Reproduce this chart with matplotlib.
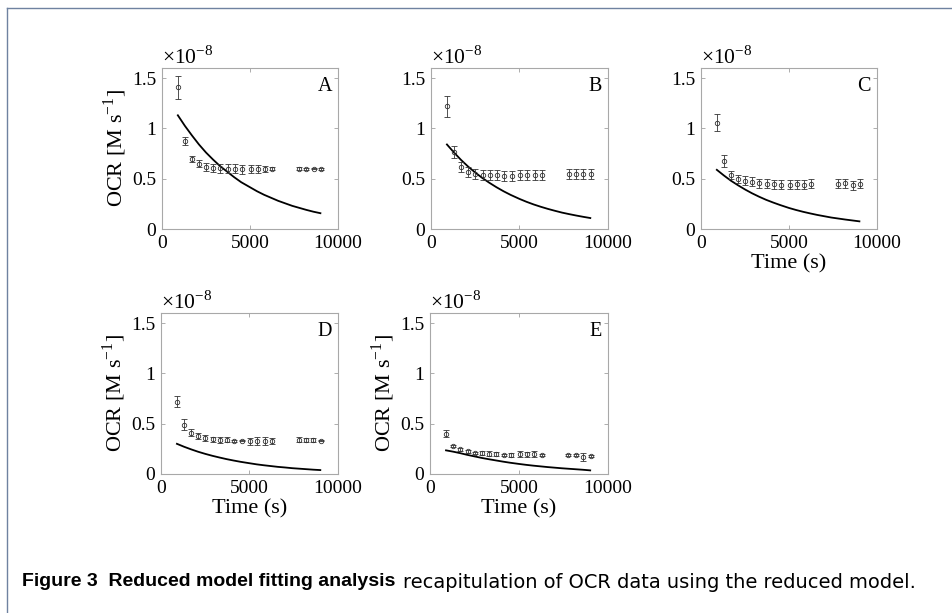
import numpy as np
import matplotlib
matplotlib.use("Agg")
import matplotlib.pyplot as plt
from matplotlib.lines import Line2D

# measured times (s) and OCR values in units of 1e-8 M/s
t = [900, 1300, 1710, 2110, 2510, 2910, 3320, 3730, 4140, 4550,
     5030, 5440, 5850, 6270, 7770, 8190, 8610, 9020]
line_t = [900, 1300, 1700, 2100, 2500, 2900, 3300, 3700, 4100, 4500, 5000,
          5400, 5800, 6200, 6600, 7000, 7400, 7800, 8200, 8600, 9000]

ocr_A = [1.41, 0.87, 0.70, 0.65, 0.62, 0.61, 0.605, 0.60, 0.60, 0.595,
         0.60, 0.60, 0.60, 0.60, 0.60, 0.60, 0.60, 0.595]
err_A = [0.115, 0.04, 0.03, 0.035, 0.04, 0.04, 0.045, 0.045, 0.045, 0.045,
         0.04, 0.04, 0.03, 0.015, 0.012, 0.01, 0.008, 0.008]
model_A = [1.13, 1.025, 0.93, 0.84, 0.76, 0.69, 0.625, 0.57, 0.515, 0.465, 0.415,
           0.375, 0.34, 0.31, 0.28, 0.255, 0.23, 0.21, 0.19, 0.172, 0.157]

ocr_B = [1.22, 0.765, 0.616, 0.568, 0.551, 0.54, 0.537, 0.534, 0.53, 0.53,
         0.537, 0.54, 0.537, 0.54, 0.548, 0.551, 0.548, 0.548]
err_B = [0.105, 0.06, 0.045, 0.05, 0.05, 0.05, 0.05, 0.05, 0.05, 0.05,
         0.05, 0.05, 0.05, 0.05, 0.05, 0.05, 0.05, 0.05]
model_B = [0.84, 0.76, 0.686, 0.62, 0.561, 0.507, 0.459, 0.415, 0.375, 0.339, 0.299,
           0.27, 0.244, 0.221, 0.20, 0.181, 0.163, 0.148, 0.134, 0.121, 0.109]

ocr_C = [1.058, 0.677, 0.541, 0.493, 0.48, 0.469, 0.456, 0.449, 0.446, 0.44,
         0.442, 0.446, 0.442, 0.449, 0.449, 0.456, 0.435, 0.449]
err_C = [0.085, 0.06, 0.04, 0.04, 0.045, 0.045, 0.045, 0.045, 0.045, 0.045,
         0.045, 0.045, 0.045, 0.045, 0.045, 0.045, 0.045, 0.045]
model_C = [0.588, 0.532, 0.48, 0.435, 0.393, 0.355, 0.321, 0.29, 0.263, 0.238, 0.209,
           0.189, 0.171, 0.155, 0.14, 0.127, 0.114, 0.104, 0.094, 0.085, 0.076]

ocr_D = [0.718, 0.488, 0.409, 0.379, 0.355, 0.346, 0.339, 0.339, 0.332, 0.332,
         0.326, 0.326, 0.332, 0.329, 0.339, 0.336, 0.336, 0.332]
err_D = [0.055, 0.055, 0.035, 0.03, 0.03, 0.025, 0.03, 0.025, 0.01, 0.008,
         0.035, 0.04, 0.04, 0.03, 0.025, 0.02, 0.02, 0.008]
model_D = [0.30, 0.271, 0.245, 0.221, 0.20, 0.181, 0.164, 0.148, 0.134, 0.121, 0.107,
           0.096, 0.087, 0.079, 0.071, 0.065, 0.058, 0.053, 0.048, 0.043, 0.039]

ocr_E = [0.399, 0.282, 0.246, 0.226, 0.209, 0.206, 0.199, 0.196, 0.189, 0.193,
         0.196, 0.196, 0.196, 0.189, 0.189, 0.189, 0.173, 0.183]
err_E = [0.035, 0.01, 0.015, 0.015, 0.01, 0.02, 0.025, 0.02, 0.01, 0.02,
         0.03, 0.025, 0.03, 0.01, 0.01, 0.01, 0.04, 0.01]
model_E = [0.235, 0.222, 0.207, 0.19, 0.175, 0.16, 0.147, 0.135, 0.123, 0.112, 0.10,
           0.091, 0.083, 0.076, 0.069, 0.063, 0.057, 0.052, 0.047, 0.042, 0.036]

panels = ["A", "B", "C", "D", "E"]
ocr = [ocr_A, ocr_B, ocr_C, ocr_D, ocr_E]
err = [err_A, err_B, err_C, err_D, err_E]
model = [model_A, model_B, model_C, model_D, model_E]

xticks = [0, 5000, 10000]
yticks = [0, 0.5, 1, 1.5]
ytick_labels = ["0", "0.5", "1", "1.5"]

W, H = 953, 613
# axes boxes in pixels: left, top, right, bottom
boxes = [(162, 68, 338, 229), (431, 68, 608, 229), (701, 68, 877, 229),
         (161, 313, 338, 474), (430, 313, 608, 474)]
show_ylabel = [True, False, False, True, True]
show_xlabel = [False, False, True, True, True]

plt.rcParams['font.family'] = ['Liberation Serif', 'DejaVu Serif']

fig = plt.figure(figsize=(W / 100, H / 100), dpi=100)
fig.patch.set_facecolor("white")

for i in range(5):
    l, tp, r, b = boxes[i]
    ax = fig.add_axes([l / W, 1 - b / H, (r - l) / W, (b - tp) / H])
    ax.plot(line_t, model[i], color="black", lw=1.3)
    ax.errorbar(t, ocr[i], yerr=err[i], fmt="o", ms=3.2, mfc="none", mec="#333333",
                mew=0.6, ecolor="#333333", elinewidth=0.6, capsize=2.3, capthick=0.6)
    ax.set_xlim(0, 10000)
    ax.set_ylim(0, 1.6)
    ax.set_xticks(xticks)
    ax.set_xticklabels([str(v) for v in xticks])
    ax.set_yticks(yticks)
    ax.set_yticklabels(ytick_labels)
    ax.tick_params(direction="in", length=3, width=0.6, color="#a0a0a0",
                   labelsize=14, top=True, right=True, pad=4)
    for s in ax.spines.values():
        s.set_color("#a8a8a8")
        s.set_linewidth(0.8)
    ax.text(0.0, 0.995, "\u00d710$^{\\mathregular{-8}}$", transform=ax.transAxes,
            ha="left", va="bottom", fontsize=15.5)
    ax.text(0.965, 0.888, panels[i], transform=ax.transAxes, ha="right",
            va="center", fontsize=14.5)
    if show_ylabel[i]:
        ax.set_ylabel("OCR [M s$^{\\mathregular{-1}}$]", fontsize=16, labelpad=2)
    if show_xlabel[i]:
        ax.set_xlabel("Time (s)", fontsize=16, labelpad=2)

# page frame
fc = "#6f82a0"
fig.add_artist(Line2D([7 / W, 7 / W], [0, 1 - 8 / H], color=fc, lw=1.0))
fig.add_artist(Line2D([7 / W, 1], [1 - 8 / H, 1 - 8 / H], color=fc, lw=1.0))

# caption: bold lead-in, then regular text stretched to the reference width
t1 = fig.text(22 / W, 1 - 582 / H, "Figure 3  Reduced model fitting analysis",
              fontsize=14, fontweight="bold", family=['Liberation Sans', 'DejaVu Sans'],
              va="center")
fig.canvas.draw()
bb = t1.get_window_extent()
t2 = fig.text((bb.x1 + 8) / W, 1 - 582 / H,
              "recapitulation of OCR data using the reduced model.",
              fontsize=14, family=['DejaVu Sans'], va="center")
fig.canvas.draw()
w2 = t2.get_window_extent().width
target = 916 - (bb.x1 + 8)
t2.set_fontsize(14 * target / w2)

fig.savefig("out.png", dpi=100)
